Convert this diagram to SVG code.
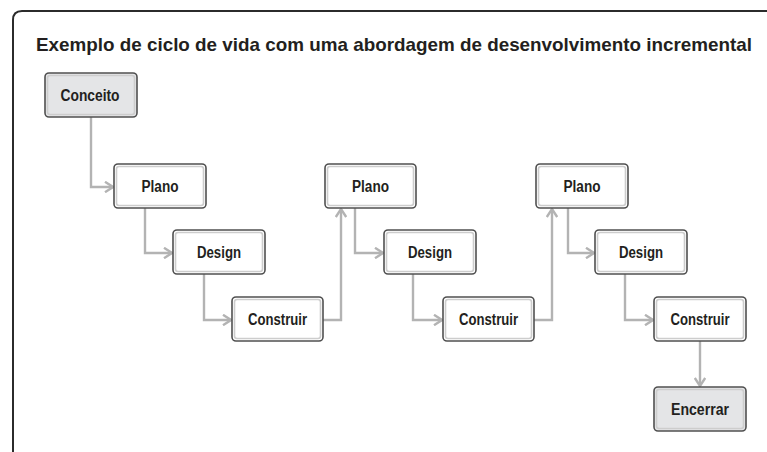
<svg xmlns="http://www.w3.org/2000/svg" width="767" height="452" viewBox="0 0 767 452">
<defs>
<style>
.frame{fill:none;stroke:#2b2b2b;stroke-width:2}
.box{stroke:#505050;stroke-width:1.6}
.inner{fill:none;stroke:#cdcdcd;stroke-width:1.6}
.w{fill:#ffffff}
.g{fill:#e4e5e7}
.lbl{font-family:"Liberation Sans",Arial,sans-serif;font-weight:bold;font-size:16px;fill:#231f20;text-anchor:middle}
.title{font-family:"Liberation Sans",Arial,sans-serif;font-weight:bold;font-size:19px;fill:#231f20}
.c{fill:none;stroke:#b3b3b3;stroke-width:2.4;marker-end:url(#arr)}
</style>
<marker id="arr" viewBox="0 0 12 12" refX="10.5" refY="6" markerWidth="12" markerHeight="12" markerUnits="userSpaceOnUse" orient="auto">
<path d="M2.5,0.8 L10.5,6 L2.5,11.2" fill="none" stroke="#b3b3b3" stroke-width="2.4"/>
</marker>
</defs>
<rect width="767" height="452" fill="#ffffff"/>
<path class="frame" d="M13,460 L13,20 Q13,11 22,11 L780,11"/>
<text class="title" x="36" y="51" textLength="716" lengthAdjust="spacingAndGlyphs">Exemplo de ciclo de vida com uma abordagem de desenvolvimento incremental</text>
<g id="connectors">
<path class="c" d="M91,117 L91,187 L113,187"/>
<path class="c" d="M145,208 L145,253 L172,253"/>
<path class="c" d="M204,274 L204,320 L231,320"/>
<path class="c" d="M323,320 L341,320 L341,209"/>
<path class="c" d="M355,208 L355,253 L383,253"/>
<path class="c" d="M413,274 L413,320 L442,320"/>
<path class="c" d="M534,320 L552,320 L552,209"/>
<path class="c" d="M568,208 L568,253 L594,253"/>
<path class="c" d="M625,274 L625,320 L653,320"/>
<path class="c" d="M700,341 L700,386"/>
</g>
<g id="conceito"><rect class="box g" x="45" y="73" width="92" height="44" rx="4"/><rect class="inner" x="47.5" y="75.5" width="87" height="39" rx="2.5"/><text class="lbl" x="90" y="101" textLength="59" lengthAdjust="spacingAndGlyphs">Conceito</text></g>
<g id="plano1"><rect class="box w" x="114" y="164" width="92" height="44" rx="4"/><rect class="inner" x="116.5" y="166.5" width="87" height="39" rx="2.5"/><text class="lbl" x="160" y="192" textLength="37" lengthAdjust="spacingAndGlyphs">Plano</text></g>
<g id="design1"><rect class="box w" x="173" y="230" width="92" height="44" rx="4"/><rect class="inner" x="175.5" y="232.5" width="87" height="39" rx="2.5"/><text class="lbl" x="219" y="258" textLength="44" lengthAdjust="spacingAndGlyphs">Design</text></g>
<g id="construir1"><rect class="box w" x="232" y="297" width="91" height="44" rx="4"/><rect class="inner" x="234.5" y="299.5" width="86" height="39" rx="2.5"/><text class="lbl" x="277.5" y="325" textLength="59" lengthAdjust="spacingAndGlyphs">Construir</text></g>
<g id="plano2"><rect class="box w" x="325" y="164" width="91" height="44" rx="4"/><rect class="inner" x="327.5" y="166.5" width="86" height="39" rx="2.5"/><text class="lbl" x="370.5" y="192" textLength="37" lengthAdjust="spacingAndGlyphs">Plano</text></g>
<g id="design2"><rect class="box w" x="384" y="230" width="92" height="44" rx="4"/><rect class="inner" x="386.5" y="232.5" width="87" height="39" rx="2.5"/><text class="lbl" x="430" y="258" textLength="44" lengthAdjust="spacingAndGlyphs">Design</text></g>
<g id="construir2"><rect class="box w" x="443" y="297" width="91" height="44" rx="4"/><rect class="inner" x="445.5" y="299.5" width="86" height="39" rx="2.5"/><text class="lbl" x="488.5" y="325" textLength="59" lengthAdjust="spacingAndGlyphs">Construir</text></g>
<g id="plano3"><rect class="box w" x="536" y="164" width="92" height="44" rx="4"/><rect class="inner" x="538.5" y="166.5" width="87" height="39" rx="2.5"/><text class="lbl" x="582" y="192" textLength="37" lengthAdjust="spacingAndGlyphs">Plano</text></g>
<g id="design3"><rect class="box w" x="595" y="230" width="92" height="44" rx="4"/><rect class="inner" x="597.5" y="232.5" width="87" height="39" rx="2.5"/><text class="lbl" x="641" y="258" textLength="44" lengthAdjust="spacingAndGlyphs">Design</text></g>
<g id="construir3"><rect class="box w" x="654" y="297" width="92" height="44" rx="4"/><rect class="inner" x="656.5" y="299.5" width="87" height="39" rx="2.5"/><text class="lbl" x="700" y="325" textLength="59" lengthAdjust="spacingAndGlyphs">Construir</text></g>
<g id="encerrar"><rect class="box g" x="654" y="387" width="92" height="44" rx="4"/><rect class="inner" x="656.5" y="389.5" width="87" height="39" rx="2.5"/><text class="lbl" x="700" y="415" textLength="58" lengthAdjust="spacingAndGlyphs">Encerrar</text></g>
</svg>
